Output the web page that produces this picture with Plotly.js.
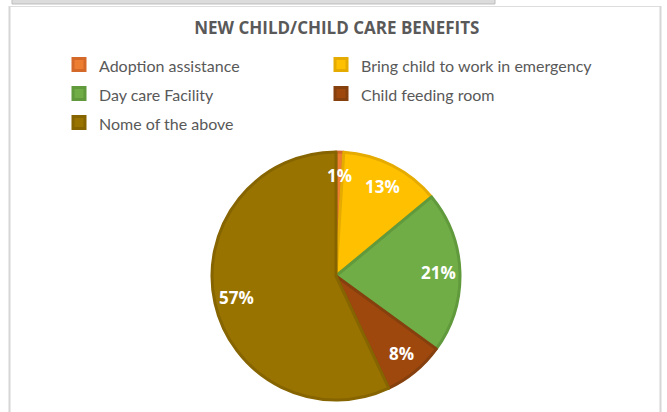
<!DOCTYPE html>
<html><head><meta charset="utf-8">
<script src="https://cdn.plot.ly/plotly-3.0.1.min.js"></script>
<style>html,body{margin:0;padding:0;background:#fff}#chart{width:667px;height:412px}</style>
</head><body><div id="chart"></div>
<script>
const labels = ["Adoption assistance", "Bring child to work in emergency", "Day care Facility", "Child feeding room", "Nome of the above"];
const values = [1, 13, 21, 8, 57];
const colors = ["#ED7D31", "#FFC000", "#70AD47", "#9E480E", "#997300"];
const borderColors = ["#D4692A", "#E5AB00", "#609A3C", "#86400E", "#866500"];
const chartTitle = "NEW CHILD/CHILD CARE BENEFITS";

const W = 667, H = 412;
const cx = 336, cy = 276, R = 124;

const total = values.reduce((a, b) => a + b, 0);
let cum = 0;
const labelAnnotations = values.map(v => {
  const mid = (cum + v / 2) / total * 2 * Math.PI;
  cum += v;
  const r = 0.81 * R;
  return {
    xref: "paper", yref: "paper", showarrow: false,
    x: (cx + 1.02 * r * Math.sin(mid)) / W, y: (H - (cy - r * Math.cos(mid))) / H,
    xanchor: "center", yanchor: "middle",
    text: Math.round(v / total * 100) + "%",
    font: {family: "Open Sans", size: 17, color: "#ffffff", weight: "bold"}
  };
});

const trace = {
  type: "pie",
  labels: labels.map(l => '<span style="font-size:16px">' + l + '</span>'),
  values: values,
  sort: false,
  direction: "clockwise",
  rotation: 0,
  marker: {colors: colors, line: {color: borderColors, width: 3}},
  textinfo: "none",
  domain: {x: [(cx - R) / W, (cx + R) / W], y: [(H - cy - R) / H, (H - cy + R) / H]},
  hoverinfo: "label+percent"
};

const layout = {
  width: W, height: H,
  margin: {l: 0, r: 0, t: 0, b: 0},
  paper_bgcolor: "#ffffff",
  title: {text: chartTitle, x: 0.505, xanchor: "center", y: 1 - 28 / H, yanchor: "middle",
          font: {family: "Open Sans", size: 17, color: "#595959", weight: "bold"}},
  showlegend: true,
  legend: {orientation: "h", x: 59 / W, xanchor: "left", y: 1 - 45 / H, yanchor: "top",
           entrywidth: 217, traceorder: "normal",
           font: {family: "Lato", size: 20, color: "#595959"}, bgcolor: "rgba(0,0,0,0)"},
  annotations: labelAnnotations,
  shapes: [
    {type: "rect", xref: "paper", yref: "paper", x0: 12 / W, x1: 495 / W, y0: 1 - 4 / H, y1: 1.02,
     fillcolor: "#dcdcdc", line: {color: "#bdbdbd", width: 1}, layer: "below"},
    {type: "line", xref: "paper", yref: "paper", x0: 9.5 / W, x1: 9.5 / W, y0: 0, y1: 1 - 6 / H,
     line: {color: "#d6d6d6", width: 2}, layer: "below"},
    {type: "line", xref: "paper", yref: "paper", x0: 9.5 / W, x1: 661 / W, y0: 1 - 6.5 / H, y1: 1 - 6.5 / H,
     line: {color: "#dedede", width: 1}, layer: "below"},
    {type: "line", xref: "paper", yref: "paper", x0: 660.5 / W, x1: 660.5 / W, y0: 0, y1: 1 - 6 / H,
     line: {color: "#d6d6d6", width: 2}, layer: "below"}
  ]
};

Plotly.newPlot("chart", [trace], layout, {displayModeBar: false, staticPlot: true}).then(gd => {
  // let the long legend entry extend past the fixed entry width
  gd.querySelectorAll(".legend .scrollbox").forEach(el => el.removeAttribute("clip-path"));
});
</script>
</body></html>
